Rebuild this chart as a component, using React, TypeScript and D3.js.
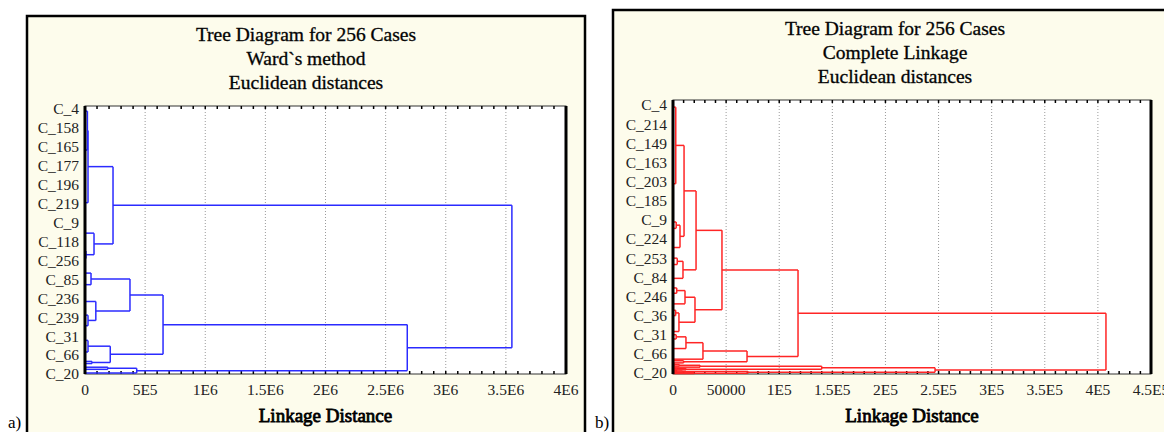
import React, { useEffect, useRef } from 'react'
import * as d3 from 'd3'

// leaf labels (every 18th case of 256)
const wardLabels = ['C_4', 'C_158', 'C_165', 'C_177', 'C_196', 'C_219', 'C_9', 'C_118', 'C_256', 'C_85', 'C_236', 'C_239', 'C_31', 'C_66', 'C_20']
const completeLabels = ['C_4', 'C_214', 'C_149', 'C_163', 'C_203', 'C_185', 'C_9', 'C_224', 'C_253', 'C_84', 'C_246', 'C_36', 'C_31', 'C_66', 'C_20']

const wardTicks = [0, 5e5, 1e6, 1.5e6, 2e6, 2.5e6, 3e6, 3.5e6, 4e6]
const wardTickLabels = ['0', '5E5', '1E6', '1.5E6', '2E6', '2.5E6', '3E6', '3.5E6', '4E6']
const completeTicks = [0, 5e4, 1e5, 1.5e5, 2e5, 2.5e5, 3e5, 3.5e5, 4e5, 4.5e5]
const completeTickLabels = ['0', '50000', '1E5', '1.5E5', '2E5', '2.5E5', '3E5', '3.5E5', '4E5', '4.5E5']

// merges: [id, child a, child b, linkage distance]; a number child = case position (0..255)
type Merge = [string, number | string, number | string, number]

const wardMerges: Merge[] = [
  ['a1', 3, 40, 20000],
  ['a', 'a1', 90, 25000],
  ['b1', 136, 143, 8000],
  ['b', 119, 'b1', 75000],
  ['top', 'a', 'b', 233000],
  ['c1', 157, 168, 50000],
  ['c2a', 197, 207, 25000],
  ['c2', 184, 'c2a', 90000],
  ['c', 'c1', 'c2', 374000],
  ['d1', 221, 232, 25000],
  ['d2', 241, 243, 58000],
  ['d', 'd1', 'd2', 210000],
  ['e', 'c', 'd', 649000],
  ['f1', 246.5, 248.5, 190000],
  ['f', 'f1', 252, 430000],
  ['g', 'e', 'f', 2680000],
  ['root', 'top', 'g', 3550000],
]

const completeMerges: Merge[] = [
  ['a', 2, 74, 2600],
  ['b1', 110, 116, 3000],
  ['b', 'b1', 134, 6600],
  ['c', 'a', 'b', 10400],
  ['d1', 144, 150, 4000],
  ['d', 'd1', 163, 9400],
  ['e', 'c', 'd', 21700],
  ['f1', 172, 177, 3500],
  ['f', 'f1', 187, 11300],
  ['g1', 193, 198, 2500],
  ['g', 'g1', 213, 5600],
  ['h', 'f', 'g', 20700],
  ['i', 'e', 'h', 46100],
  ['j1', 216, 220, 3000],
  ['j', 'j1', 229, 12200],
  ['k', 'j', 239, 28200],
  ['l', 240.5, 242.5, 10000],
  ['m', 'k', 'l', 69700],
  ['n', 'i', 'm', 117700],
  ['r0', 243.5, 244.5, 2000],
  ['r1', 'r0', 245.5, 6000],
  ['r', 'r1', 246.5, 25400],
  ['s0', 247.5, 248.2, 3000],
  ['s', 's0', 249, 12200],
  ['o', 'r', 's', 140000],
  ['t0', 249.8, 250.4, 4000],
  ['t1', 't0', 251, 9000],
  ['t2', 251.8, 252.5, 20000],
  ['t', 't1', 't2', 70600],
  ['p', 'o', 't', 246700],
  ['root', 'n', 'p', 407600],
]

const SERIF = '"Liberation Serif", "Times New Roman", serif'

function drawPanel(svg, cfg) {
  const g = svg.append('g')

  // frame
  g.append('rect')
    .attr('x', cfg.frame[0]).attr('y', cfg.frame[1])
    .attr('width', cfg.frame[2]).attr('height', cfg.frame[3])
    .attr('fill', '#fdfcec').attr('stroke', '#000').attr('stroke-width', 2.5)

  // titles
  cfg.titles.forEach((t, i) => {
    g.append('text')
      .attr('x', cfg.titleX).attr('y', cfg.titleY + i * 24)
      .attr('text-anchor', 'middle')
      .attr('font-family', SERIF).attr('font-size', 19.5)
      .attr('stroke', '#111').attr('stroke-width', 0.35)
      .text(t)
  })

  const [x0, x1] = cfg.xRange
  const [y0, y1] = cfg.plotY
  const x = d3.scaleLinear().domain(cfg.xDomain).range(cfg.xRange)
  const y = d3.scaleLinear().domain([0, 252]).range(cfg.leafY)

  g.append('rect')
    .attr('x', x0).attr('y', y0).attr('width', x1 - x0).attr('height', y1 - y0)
    .attr('fill', '#fff').attr('stroke', '#333').attr('stroke-width', 1)

  // grid
  g.append('g').selectAll('line')
    .data(cfg.ticks.slice(1, -1))
    .enter().append('line')
    .attr('x1', d => x(d)).attr('x2', d => x(d))
    .attr('y1', y0).attr('y2', y1)
    .attr('stroke', '#9a9a9a').attr('stroke-dasharray', '1,2')

  // minor ticks on top and bottom
  const minor = d3.range(cfg.xDomain[0], cfg.xDomain[1], cfg.minorStep)
  ;[[y0, 3], [y1, -3]].forEach(([yy, dy]) => {
    g.append('g').selectAll('line')
      .data(minor)
      .enter().append('line')
      .attr('x1', d => x(d)).attr('x2', d => x(d))
      .attr('y1', yy).attr('y2', yy + dy)
      .attr('stroke', '#000').attr('stroke-width', 1.5)
  })

  // dendrogram
  const tree = g.append('g')
    .attr('stroke', cfg.color).attr('stroke-width', 1.5).attr('fill', 'none')
  const nodes = {}
  const pos = c => (typeof c === 'number' ? { y: y(c), h: 0 } : nodes[c])
  cfg.merges.forEach(([id, a, b, h]) => {
    const pa = pos(a)
    const pb = pos(b)
    for (const p of [pa, pb]) {
      tree.append('line')
        .attr('x1', x(p.h)).attr('x2', x(h))
        .attr('y1', p.y).attr('y2', p.y)
    }
    tree.append('line')
      .attr('x1', x(h)).attr('x2', x(h))
      .attr('y1', pa.y).attr('y2', pb.y)
    nodes[id] = { y: (pa.y + pb.y) / 2, h }
  })

  // thick left and right borders
  for (const xx of [x0, x1]) {
    g.append('line')
      .attr('x1', xx).attr('x2', xx).attr('y1', y0).attr('y2', y1)
      .attr('stroke', '#000').attr('stroke-width', 3)
  }

  // leaf labels
  const ly = d3.scalePoint().domain(cfg.labels).range(cfg.labelY)
  g.append('g').selectAll('text')
    .data(cfg.labels)
    .enter().append('text')
    .attr('x', x0 - 6).attr('y', d => ly(d))
    .attr('dy', '0.35em')
    .attr('text-anchor', 'end')
    .attr('font-family', SERIF).attr('font-size', 15.5)
    .attr('fill', '#222')
    .text(d => d)

  // x tick labels
  g.append('g').selectAll('text')
    .data(cfg.ticks)
    .enter().append('text')
    .attr('x', d => x(d)).attr('y', y1 + 21)
    .attr('text-anchor', 'middle')
    .attr('font-family', SERIF).attr('font-size', 15.5)
    .attr('fill', '#222')
    .text((d, i) => cfg.tickLabels[i])

  g.append('text')
    .attr('x', (x0 + x1) / 2).attr('y', 422)
    .attr('text-anchor', 'middle')
    .attr('font-family', SERIF).attr('font-size', 19)
    .attr('stroke', '#000').attr('stroke-width', 0.8)
    .text('Linkage Distance')
}

export default function App() {
  const ref = useRef(null)

  useEffect(() => {
    const svg = d3.select(ref.current)
    svg.selectAll('*').remove()

    svg.append('text').attr('x', 8).attr('y', 428)
      .attr('font-family', SERIF).attr('font-size', 17).text('a)')
    svg.append('text').attr('x', 595).attr('y', 428)
      .attr('font-family', SERIF).attr('font-size', 17).text('b)')

    drawPanel(svg, {
      frame: [27, 16, 558, 440],
      titles: ['Tree Diagram for 256 Cases', 'Ward`s method', 'Euclidean distances'],
      titleX: 306, titleY: 41,
      xDomain: [0, 4e6], xRange: [85, 566], minorStep: 1e5,
      plotY: [106, 374], leafY: [108, 373], labelY: [109, 374],
      ticks: wardTicks, tickLabels: wardTickLabels,
      labels: wardLabels, merges: wardMerges, color: '#2b2bff',
    })

    drawPanel(svg, {
      frame: [613, 10, 570, 450],
      titles: ['Tree Diagram for 256 Cases', 'Complete Linkage', 'Euclidean distances'],
      titleX: 895, titleY: 35,
      xDomain: [0, 4.5e5], xRange: [673, 1151], minorStep: 1e4,
      plotY: [100, 374], leafY: [105, 373], labelY: [105, 373],
      ticks: completeTicks, tickLabels: completeTickLabels,
      labels: completeLabels, merges: completeMerges, color: '#ff2525',
    })
  }, [])

  return (
    <svg ref={ref} width={1164} height={432}
      style={{ position: 'absolute', left: 0, top: 0, background: '#fff' }} />
  )
}
